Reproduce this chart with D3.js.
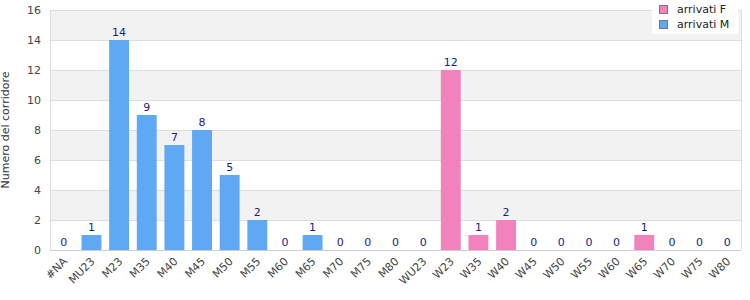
<!DOCTYPE html>
<html>
<head>
<meta charset="utf-8">
<script src="https://d3js.org/d3.v7.min.js"></script>
<style>
  body { margin: 0; background: #fff; }
  text { font-family: "DejaVu Sans", sans-serif; }
</style>
</head>
<body>
<div id="chart"></div>
<script>
var categories = ["#NA","MU23","M23","M35","M40","M45","M50","M55","M60","M65","M70","M75","M80",
                  "WU23","W23","W35","W40","W45","W50","W55","W60","W65","W70","W75","W80"];
// arrivati M (null where category belongs to F)
var valuesM = [0,1,14,9,7,8,5,2,0,1,0,0,0,
               null,null,null,null,null,null,null,null,null,null,null,null];
// arrivati F
var valuesF = [null,null,null,null,null,null,null,null,null,null,null,null,null,
               0,12,1,2,0,0,0,0,1,0,0,0];
var yTicks = [0,2,4,6,8,10,12,14,16];
var seriesNames = ["arrivati F","arrivati M"];
var seriesColors = {"arrivati F": "#f282bb", "arrivati M": "#5fa8f4"};

var W = 750, H = 300;
var m = {top: 10, right: 9, bottom: 50, left: 50};

var svg = d3.select("#chart").append("svg").attr("width", W).attr("height", H);

var x = d3.scaleBand().domain(categories).range([m.left, W - m.right]).paddingInner(0.28).paddingOuter(0.14);
var y = d3.scaleLinear().domain([0, 16]).range([H - m.bottom, m.top]);

// alternating bands
for (var i = 0; i < yTicks.length - 1; i++) {
  if (i % 2 === 1) {
    svg.append("rect")
      .attr("x", m.left).attr("width", W - m.right - m.left)
      .attr("y", y(yTicks[i + 1])).attr("height", y(yTicks[i]) - y(yTicks[i + 1]))
      .style("fill", "#f2f2f2");
  }
}
// gridlines
svg.selectAll(".grid").data(yTicks).enter().append("line")
  .attr("x1", m.left).attr("x2", W - m.right)
  .attr("y1", function(d){ return y(d) + 0.5; }).attr("y2", function(d){ return y(d) + 0.5; })
  .style("stroke", function(d){ return d === 0 ? "#cfcfcf" : "#dedede"; });
// frame
svg.append("line").attr("x1", m.left + 0.5).attr("x2", m.left + 0.5)
  .attr("y1", m.top).attr("y2", H - m.bottom).style("stroke", "#dedede");
svg.append("line").attr("x1", W - m.right + 0.5).attr("x2", W - m.right + 0.5)
  .attr("y1", m.top).attr("y2", H - m.bottom).style("stroke", "#dedede");

// y tick labels
svg.selectAll(".ylab").data(yTicks).enter().append("text")
  .attr("x", m.left - 9).attr("y", function(d){ return y(d) + 4; })
  .attr("text-anchor", "end").style("font-size", "11px").style("fill", "#444")
  .text(function(d){ return d; });

// y axis title
svg.append("text")
  .attr("transform", "translate(9," + ((m.top + H - m.bottom) / 2 + 0) + ") rotate(-90)")
  .attr("text-anchor", "middle").style("font-size", "11px").style("fill", "#333")
  .text("Numero del corridore");

// x tick labels
svg.selectAll(".xlab").data(categories).enter().append("text")
  .attr("transform", function(d){
    return "translate(" + (x(d) + x.bandwidth() / 2 + 4) + "," + (H - m.bottom + 12) + ") rotate(-45)";
  })
  .attr("text-anchor", "end").style("font-size", "11px").style("fill", "#444")
  .text(function(d){ return d; });

function drawSeries(values, name) {
  var data = categories.map(function(c, i){ return {cat: c, v: values[i]}; })
    .filter(function(d){ return d.v !== null; });
  svg.selectAll(".bar-" + name.replace(" ", "")).data(data).enter().append("rect")
    .attr("x", function(d){ return x(d.cat); })
    .attr("width", x.bandwidth())
    .attr("y", function(d){ return y(d.v); })
    .attr("height", function(d){ return y(0) - y(d.v); })
    .style("fill", seriesColors[name]);
  svg.selectAll(".lab-" + name.replace(" ", "")).data(data).enter().append("text")
    .attr("x", function(d){ return x(d.cat) + x.bandwidth() / 2; })
    .attr("y", function(d){ return y(d.v) - 4; })
    .attr("text-anchor", "middle").style("font-size", "11px").style("fill", "#1a1a8c")
    .text(function(d){ return d.v; });
}
drawSeries(valuesM, "arrivati M");
drawSeries(valuesF, "arrivati F");

// legend
var lg = svg.append("g").attr("transform", "translate(652,0)");
lg.append("rect").attr("x", 0).attr("y", 0).attr("width", 86).attr("height", 34).style("fill", "#fff");
seriesNames.forEach(function(n, i){
  lg.append("rect").attr("x", 7.5).attr("y", 5.5 + i * 15).attr("width", 8).attr("height", 8)
    .style("fill", seriesColors[n]).style("stroke", "#777").style("stroke-width", 1);
  lg.append("text").attr("x", 25).attr("y", 13 + i * 15)
    .style("font-size", "11px").style("fill", "#222").text(n);
});
</script>
</body>
</html>
